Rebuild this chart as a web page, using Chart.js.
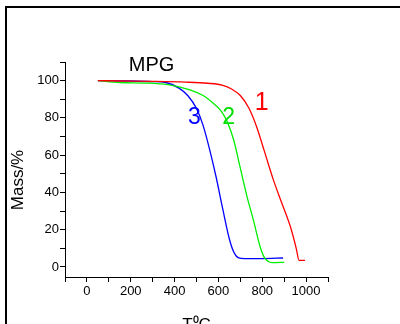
<!DOCTYPE html>
<html>
<head>
<meta charset="utf-8">
<script src="https://cdn.jsdelivr.net/npm/chart.js@4.4.1/dist/chart.umd.min.js"></script>
<style>
  html, body { margin: 0; padding: 0; background: #fff; }
  #wrap { position: relative; width: 400px; height: 324px; overflow: hidden; }
  #frame { position: absolute; left: 5px; top: 6px; width: 420px; height: 340px; border: 2.5px solid #000; box-sizing: border-box; }
  #c { position: absolute; left: 0; top: 0; }
</style>
</head>
<body>
<div id="wrap">
  <div id="frame"></div>
  <canvas id="c" width="400" height="324"></canvas>
</div>
<script>
// данные кривых ТГА (температура, °C / масса, %)
const temp1 = [50, 150, 300, 450, 550, 620, 660, 700, 740, 775, 810, 850, 890, 930, 955, 968, 995];
const mass1 = [100, 99.8, 99.6, 99.2, 98.6, 97.5, 95.5, 92, 85, 75, 62, 47, 34, 21, 10, 3.5, 3.5];

const temp2 = [50, 150, 270, 370, 470, 530, 575, 610, 640, 670, 700, 730, 760, 790, 810, 830, 850, 900];
const mass2 = [100, 99, 98.7, 97.8, 95, 92, 88, 84, 78, 68, 53, 38, 25, 11, 5, 2.8, 2.3, 2.5];

const temp3 = [50, 200, 300, 360, 420, 460, 500, 530, 560, 590, 620, 650, 670, 690, 720, 800, 895];
const mass3 = [100, 99.8, 99.5, 99, 96, 92, 85, 76, 63, 48, 31, 15, 8, 5, 4.5, 4.5, 4.8];

const xTicksMajor = [0, 200, 400, 600, 800, 1000];
const yTicksMajor = [0, 20, 40, 60, 80, 100];

// подписи на графике: [текст, T, масса, цвет, размер]
const labels = [
  ["MPG", 295, 108, "#000", 20],
  ["1", 798, 88, "#ff0000", 25],
  ["2", 647, 80, "#00dd00", 23],
  ["3", 490, 80, "#0000ff", 23],
];

const pts = (xs, ys) => xs.map((x, i) => ({ x: x, y: ys[i] }));

const textPlugin = {
  id: "texts",
  afterDraw(chart) {
    const c = chart.ctx;
    const xs = chart.scales.x, ys = chart.scales.y;
    c.save();
    c.textAlign = "center";
    c.textBaseline = "middle";
    labels.forEach(([t, tx, my, col, sz]) => {
      c.fillStyle = col;
      c.font = sz + "px 'Liberation Sans', Arial";
      c.fillText(t, xs.getPixelForValue(tx), ys.getPixelForValue(my));
    });
    // подписи осей
    c.fillStyle = "#000";
    c.font = "17px 'Liberation Sans', Arial";
    c.fillText("T\u2070C", (xs.left + xs.right) / 2, 325);
    c.translate(18, 180);
    c.rotate(-Math.PI / 2);
    c.fillText("Mass/%", 0, 0);
    c.restore();
  },
};

const line = (data, color) => ({
  data: data,
  borderColor: color,
  borderWidth: 1.3,
  pointRadius: 0,
  showLine: true,
  cubicInterpolationMode: "monotone",
  fill: false,
});

// шаговые деления (мелкие и крупные)
const stepTicks = (from, to, step) => (s) => {
  const t = [];
  for (let v = from; v <= to; v += step) t.push({ value: v });
  s.ticks = t;
};

new Chart(document.getElementById("c").getContext("2d"), {
  type: "scatter",
  data: {
    datasets: [
      line(pts(temp1, mass1), "#ff0000"),
      line(pts(temp2, mass2), "#00ee00"),
      line(pts(temp3, mass3), "#0000ff"),
    ],
  },
  options: {
    responsive: false,
    animation: false,
    layout: { padding: { left: 0, top: 62, right: 72, bottom: 0 } },
    plugins: { legend: { display: false }, tooltip: { enabled: false } },
    scales: {
      x: {
        type: "linear",
        min: -100,
        max: 1100,
        afterBuildTicks: stepTicks(-100, 1100, 100),
        afterFit: (s) => { s.height = 47; },
        border: { display: true, color: "#000", width: 1 },
        grid: { drawOnChartArea: false, drawTicks: true, tickLength: 5, color: "#000" },
        ticks: {
          padding: 2,
          color: "#000",
          font: { size: 13, family: "'Liberation Sans', Arial" },
          maxRotation: 0,
          autoSkip: false,
          callback: (v) => (xTicksMajor.includes(v) ? String(v) : ""),
        },
      },
      y: {
        min: -5.4,
        max: 110,
        afterBuildTicks: stepTicks(0, 110, 10),
        afterFit: (s) => { s.width = 65; },
        border: { display: true, color: "#000", width: 1 },
        grid: { drawOnChartArea: false, drawTicks: true, tickLength: 5, color: "#000" },
        ticks: {
          padding: 1,
          color: "#000",
          font: { size: 13, family: "'Liberation Sans', Arial" },
          autoSkip: false,
          callback: (v) => (yTicksMajor.includes(v) ? String(v) : ""),
        },
      },
    },
  },
  plugins: [textPlugin],
});
</script>
</body>
</html>
